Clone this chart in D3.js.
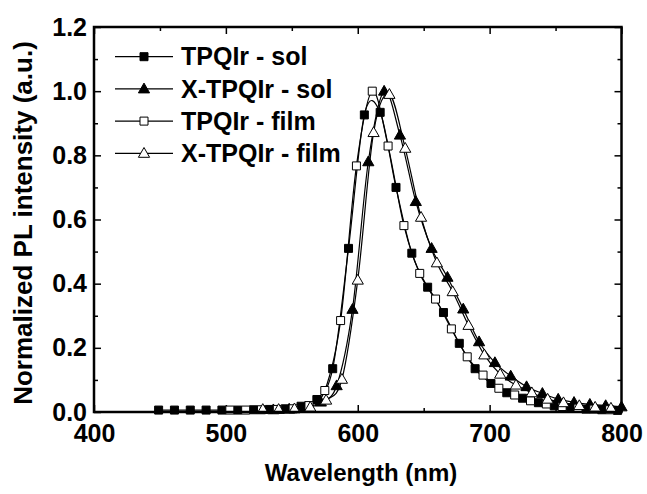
<!DOCTYPE html>
<html>
<head>
<meta charset="utf-8">
<script src="https://cdn.jsdelivr.net/npm/d3@7"></script>
<style>
  body { margin: 0; background: #fff; }
  text { font-family: "Liberation Sans", Arial, sans-serif; font-weight: bold; fill: #000; }
</style>
</head>
<body>
<svg id="chart" width="647" height="494"></svg>
<script>
// wavelengths (nm) and normalized PL intensities
var solSqX = [449, 461, 473, 485, 497, 509, 521, 533, 545, 557, 569, 581, 593, 605, 617, 629, 641, 653, 665, 677, 689, 701, 713, 725, 737, 749, 761, 773, 785, 797]
var solSqY = [0.006, 0.006, 0.006, 0.006, 0.006, 0.006, 0.007, 0.008, 0.010, 0.018, 0.039, 0.135, 0.51, 0.926, 0.934, 0.70, 0.495, 0.389, 0.31, 0.214, 0.135, 0.089, 0.06, 0.043, 0.029, 0.019, 0.013, 0.009, 0.007, 0.005]

var solTriX = [536, 548, 560, 572, 584, 596, 608, 620, 632, 644, 656, 668, 680, 692, 704, 716, 728, 740, 752, 764, 776, 788, 800]
var solTriY = [0.007, 0.009, 0.014, 0.031, 0.082, 0.32, 0.78, 1.0, 0.863, 0.656, 0.51, 0.42, 0.321, 0.219, 0.154, 0.112, 0.079, 0.058, 0.040, 0.030, 0.024, 0.020, 0.016]

var filmSqX = [503, 515, 527, 539, 551, 563, 575, 587, 599, 611, 623, 635, 647, 659, 671, 683, 695, 707, 719, 731, 743, 755, 767, 779, 791]
var filmSqY = [0.006, 0.006, 0.007, 0.008, 0.010, 0.020, 0.067, 0.285, 0.767, 1.0, 0.829, 0.581, 0.432, 0.352, 0.259, 0.172, 0.115, 0.074, 0.053, 0.035, 0.025, 0.017, 0.012, 0.009, 0.007]

var filmTriX = [528, 540, 552, 564, 576, 588, 600, 612, 624, 636, 648, 660, 672, 684, 696, 708, 720, 732, 744, 756, 768, 780, 792]
var filmTriY = [0.008, 0.008, 0.010, 0.015, 0.037, 0.102, 0.411, 0.871, 0.99, 0.822, 0.607, 0.465, 0.375, 0.27, 0.178, 0.118, 0.084, 0.06, 0.04, 0.029, 0.02, 0.015, 0.012]

var seriesNames = ["TPQIr - sol", "X-TPQIr - sol", "TPQIr - film", "X-TPQIr - film"]
var xTicks = [400, 500, 600, 700, 800]
var yTicks = [0.0, 0.2, 0.4, 0.6, 0.8, 1.0, 1.2]

var series = [
    { name: seriesNames[0], xs: solSqX, ys: solSqY, shape: "square", filled: true },
    { name: seriesNames[1], xs: solTriX, ys: solTriY, shape: "triangle", filled: true },
    { name: seriesNames[2], xs: filmSqX, ys: filmSqY, shape: "square", filled: false },
    { name: seriesNames[3], xs: filmTriX, ys: filmTriY, shape: "triangle", filled: false }
]

var L = 94, R = 621.5, T = 27, B = 412
var svg = d3.select("#chart")
svg.append("rect").attr("width", 647).attr("height", 494).attr("fill", "#fff")

var x = d3.scaleLinear().domain([400, 800]).range([L, R])
var y = d3.scaleLinear().domain([0, 1.2]).range([B, T])

function shapePath(shape) {
    if (shape == "square") {
        return d3.symbol().type(d3.symbolSquare).size(64)()
    }
    return "M0,-5.8L5.6,4L-5.6,4Z"
}

function drawMarker(g, s, cx, cy) {
    g.append("path")
        .attr("d", shapePath(s.shape))
        .attr("transform", "translate(" + cx + "," + cy + ")")
        .attr("fill", s.filled ? "#000" : "#fff")
        .attr("stroke", "#000")
        .attr("stroke-width", 1)
}

// minor + major ticks, all pointing into the frame
function tickAxis(axisFn, scale, vals, size, pos, labels) {
    var a = axisFn(scale).tickValues(vals).tickSizeInner(-size).tickSizeOuter(0)
    if (!labels) a.tickFormat("")
    var g = svg.append("g").attr("transform", pos).call(a)
    g.select(".domain").remove()
    g.selectAll("line").attr("stroke", "#000").attr("stroke-width", 1.5)
    return g
}
var xMinor = [450, 550, 650, 750]
var yMinor = [0.1, 0.3, 0.5, 0.7, 0.9, 1.1]

var gx = tickAxis(d3.axisBottom, x, xTicks, 7, "translate(0," + B + ")", true)
gx.call(function(g) { g.select(".domain").remove() })
gx.selectAll("text").attr("font-size", 25).attr("y", 12)
tickAxis(d3.axisBottom, x, xMinor, 4, "translate(0," + B + ")", false)
tickAxis(d3.axisTop, x, xTicks, 7, "translate(0," + T + ")", false)
tickAxis(d3.axisTop, x, xMinor, 4, "translate(0," + T + ")", false)

var gy = tickAxis(d3.axisLeft, y, yTicks, 7, "translate(" + L + ",0)", true)
gy.selectAll("text").attr("font-size", 25).attr("x", -7).text(function(d) { return d3.format(".1f")(d) })
tickAxis(d3.axisLeft, y, yMinor, 4, "translate(" + L + ",0)", false)
tickAxis(d3.axisRight, y, yTicks, 7, "translate(" + R + ",0)", false)
tickAxis(d3.axisRight, y, yMinor, 4, "translate(" + R + ",0)", false)

svg.selectAll(".tick text").attr("fill", "#000").attr("font-family", "Liberation Sans, Arial, sans-serif").attr("font-weight", "bold")

var line = d3.line()
    .x(function(d) { return x(d[0]) })
    .y(function(d) { return y(d[1]) })
    .curve(d3.curveCardinal.tension(0))

var plot = svg.append("g")
series.forEach(function(s) {
    var pts = d3.zip(s.xs, s.ys)
    plot.append("path")
        .datum(pts)
        .attr("d", line)
        .attr("fill", "none")
        .attr("stroke", "#000")
        .attr("stroke-width", 1.2)
})
series.forEach(function(s) {
    d3.zip(s.xs, s.ys).forEach(function(p) {
        drawMarker(plot, s, x(p[0]), y(p[1]))
    })
})

// frame
svg.append("rect")
    .attr("x", L).attr("y", T)
    .attr("width", R - L).attr("height", B - T)
    .attr("fill", "none")
    .attr("stroke", "#000")
    .attr("stroke-width", 2.5)

// legend
var leg = svg.append("g")
series.forEach(function(s, i) {
    var ly = 56.7 + i * 32.2
    leg.append("line")
        .attr("x1", 115).attr("x2", 173)
        .attr("y1", ly).attr("y2", ly)
        .attr("stroke", "#000").attr("stroke-width", 1.2)
    drawMarker(leg, s, 144, ly)
    leg.append("text")
        .attr("x", 181).attr("y", ly)
        .attr("dy", "0.35em")
        .attr("font-size", 25)
        .text(s.name)
})

svg.append("text")
    .attr("x", 361).attr("y", 481)
    .attr("text-anchor", "middle")
    .attr("font-size", 24)
    .text("Wavelength (nm)")

svg.append("text")
    .attr("transform", "translate(32,223) rotate(-90)")
    .attr("text-anchor", "middle")
    .attr("font-size", 26)
    .text("Normalized PL intensity (a.u.)")
</script>
</body>
</html>
